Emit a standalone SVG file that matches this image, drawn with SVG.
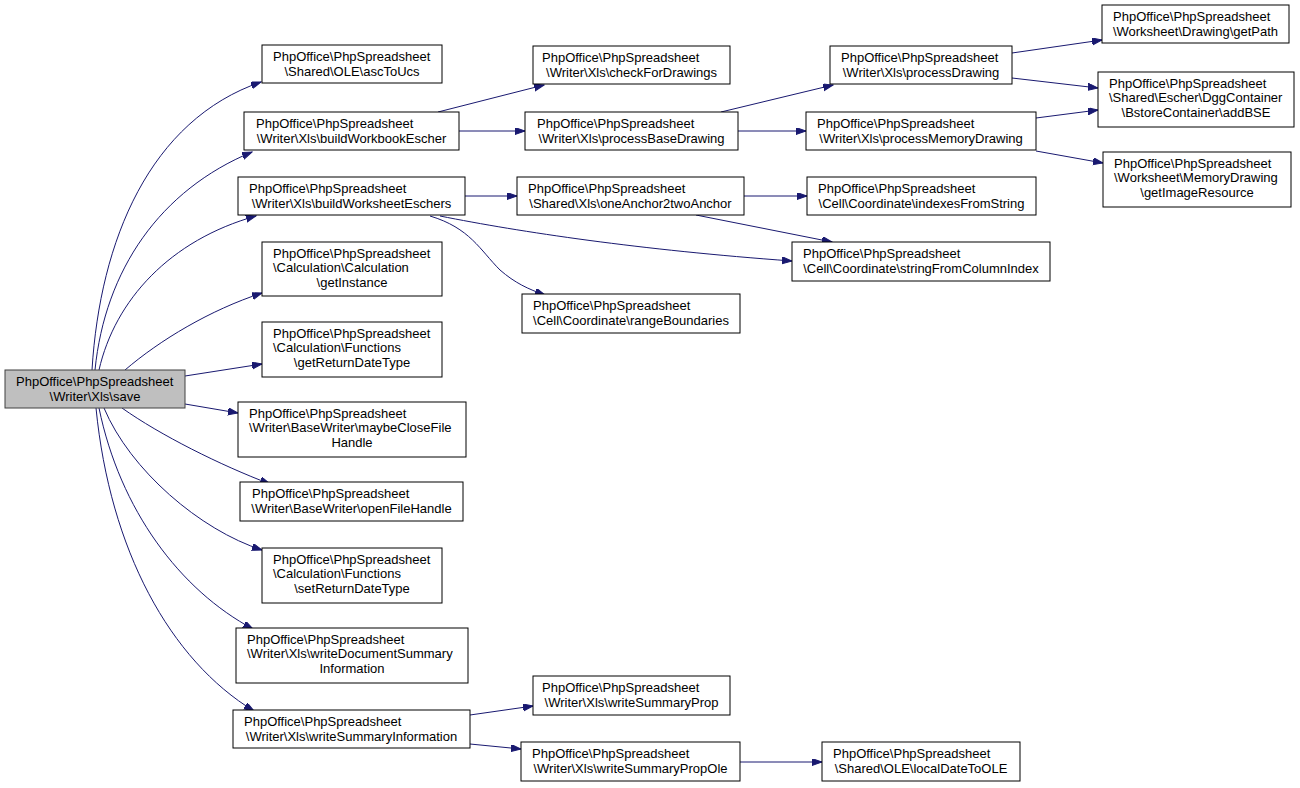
<svg xmlns="http://www.w3.org/2000/svg" width="1300" height="788" viewBox="0 0 1300 788">
<defs>
<style>
.n rect{fill:#ffffff;stroke:#000000;stroke-width:1}
.n.root rect{fill:#bfbfbf;stroke:#404040}
.n text{font-family:"Liberation Sans",Arial,Helvetica,sans-serif;font-size:13px;fill:#000000}
.n text.c{text-anchor:middle}
.e path{fill:none;stroke:#191970;stroke-width:1;marker-end:url(#ah)}
</style>
<marker id="ah" markerUnits="userSpaceOnUse" markerWidth="11" markerHeight="8" refX="10" refY="3.5" orient="auto">
<path d="M0,0 L10,3.5 L0,7 z" fill="#191970" stroke="#191970" stroke-width="1"/>
</marker>
</defs>
<rect x="0" y="0" width="1300" height="788" fill="#ffffff"/>
<g id="edges" class="e">
<path d="M92,370 C100,240 150,120 261,82"/>
<path d="M95,370 C105,270 160,190 252,152"/>
<path d="M99,370 C115,300 170,240 256,216"/>
<path d="M125,370 C160,340 210,310 262,293"/>
<path d="M185,376 L262,364"/>
<path d="M185,404 L238,413"/>
<path d="M122,408 C160,435 220,465 270,484"/>
<path d="M104,408 C130,470 200,530 262,550"/>
<path d="M99,408 C120,510 180,590 253,629"/>
<path d="M96,408 C110,550 170,660 254,711"/>
<path d="M438,112 L544,85"/>
<path d="M459,131 L525,131"/>
<path d="M721,112 L833,85"/>
<path d="M738,131 L806,131"/>
<path d="M1012,53 L1102,40"/>
<path d="M1012,78 L1098,88"/>
<path d="M1036,118 L1098,110"/>
<path d="M1036,151 L1103,163"/>
<path d="M465,196 L517,196"/>
<path d="M440,216 C520,232 640,250 792,261"/>
<path d="M430,216 C470,228 480,250 500,270 C515,283 528,289 545,295"/>
<path d="M744,196 L807,196"/>
<path d="M696,215 L832,242"/>
<path d="M470,715 L533,706"/>
<path d="M470,744 L521,749"/>
<path d="M740,762 L822,762"/>
</g>
<g id="save" class="n root"><rect x="5" y="370" width="180" height="38"/><text x="16" y="386">PhpOffice\PhpSpreadsheet</text><text class="c" x="95" y="401">\Writer\Xls\save</text></g>
<g id="ascToUcs" class="n"><rect x="262" y="45" width="180" height="38"/><text x="273" y="61">PhpOffice\PhpSpreadsheet</text><text class="c" x="352" y="76">\Shared\OLE\ascToUcs</text></g>
<g id="buildWorkbookEscher" class="n"><rect x="244" y="112" width="215" height="38"/><text x="256" y="128">PhpOffice\PhpSpreadsheet</text><text class="c" x="351.5" y="143">\Writer\Xls\buildWorkbookEscher</text></g>
<g id="checkForDrawings" class="n"><rect x="533" y="46" width="197" height="38"/><text x="542" y="62">PhpOffice\PhpSpreadsheet</text><text class="c" x="631.5" y="77">\Writer\Xls\checkForDrawings</text></g>
<g id="processBaseDrawing" class="n"><rect x="525" y="112" width="213" height="38"/><text x="537" y="128">PhpOffice\PhpSpreadsheet</text><text class="c" x="631.5" y="143">\Writer\Xls\processBaseDrawing</text></g>
<g id="processDrawing" class="n"><rect x="830" y="46" width="182" height="38"/><text x="841" y="62">PhpOffice\PhpSpreadsheet</text><text class="c" x="921" y="77">\Writer\Xls\processDrawing</text></g>
<g id="processMemoryDrawing" class="n"><rect x="806" y="112" width="230" height="38"/><text x="817" y="128">PhpOffice\PhpSpreadsheet</text><text class="c" x="921" y="143">\Writer\Xls\processMemoryDrawing</text></g>
<g id="getPath" class="n"><rect x="1102" y="5" width="187" height="38"/><text x="1113" y="21">PhpOffice\PhpSpreadsheet</text><text class="c" x="1195.5" y="36">\Worksheet\Drawing\getPath</text></g>
<g id="addBSE" class="n"><rect x="1098" y="72" width="196" height="55"/><text x="1109" y="87.5">PhpOffice\PhpSpreadsheet</text><text x="1109" y="102">\Shared\Escher\DggContainer</text><text class="c" x="1196" y="116.5">\BstoreContainer\addBSE</text></g>
<g id="getImageResource" class="n"><rect x="1103" y="152" width="188" height="55"/><text x="1114" y="167.5">PhpOffice\PhpSpreadsheet</text><text x="1114" y="182">\Worksheet\MemoryDrawing</text><text class="c" x="1197" y="196.5">\getImageResource</text></g>
<g id="buildWorksheetEschers" class="n"><rect x="238" y="177" width="227" height="38"/><text x="249" y="193">PhpOffice\PhpSpreadsheet</text><text class="c" x="351.5" y="208">\Writer\Xls\buildWorksheetEschers</text></g>
<g id="oneAnchor2twoAnchor" class="n"><rect x="517" y="177" width="227" height="38"/><text x="528" y="193">PhpOffice\PhpSpreadsheet</text><text class="c" x="630.5" y="208">\Shared\Xls\oneAnchor2twoAnchor</text></g>
<g id="indexesFromString" class="n"><rect x="807" y="177" width="229" height="38"/><text x="818" y="193">PhpOffice\PhpSpreadsheet</text><text class="c" x="921.5" y="208">\Cell\Coordinate\indexesFromString</text></g>
<g id="stringFromColumnIndex" class="n"><rect x="792" y="242" width="258" height="39"/><text x="803" y="258">PhpOffice\PhpSpreadsheet</text><text class="c" x="921" y="273">\Cell\Coordinate\stringFromColumnIndex</text></g>
<g id="rangeBoundaries" class="n"><rect x="522" y="294" width="218" height="39"/><text x="533" y="310">PhpOffice\PhpSpreadsheet</text><text class="c" x="631" y="325">\Cell\Coordinate\rangeBoundaries</text></g>
<g id="getInstance" class="n"><rect x="262" y="242" width="180" height="54"/><text x="273" y="257.5">PhpOffice\PhpSpreadsheet</text><text x="273" y="272">\Calculation\Calculation</text><text class="c" x="352" y="286.5">\getInstance</text></g>
<g id="getReturnDateType" class="n"><rect x="262" y="322" width="180" height="55"/><text x="273" y="337.5">PhpOffice\PhpSpreadsheet</text><text x="273" y="352">\Calculation\Functions</text><text class="c" x="352" y="366.5">\getReturnDateType</text></g>
<g id="maybeCloseFileHandle" class="n"><rect x="238" y="402" width="228" height="55"/><text x="249" y="417.5">PhpOffice\PhpSpreadsheet</text><text x="249" y="432">\Writer\BaseWriter\maybeCloseFile</text><text class="c" x="352" y="446.5">Handle</text></g>
<g id="openFileHandle" class="n"><rect x="240" y="482" width="223" height="39"/><text x="252" y="498">PhpOffice\PhpSpreadsheet</text><text class="c" x="351.5" y="513">\Writer\BaseWriter\openFileHandle</text></g>
<g id="setReturnDateType" class="n"><rect x="262" y="548" width="180" height="55"/><text x="273" y="563.5">PhpOffice\PhpSpreadsheet</text><text x="273" y="578">\Calculation\Functions</text><text class="c" x="352" y="592.5">\setReturnDateType</text></g>
<g id="writeDocumentSummaryInformation" class="n"><rect x="236" y="628" width="232" height="55"/><text x="247" y="643.5">PhpOffice\PhpSpreadsheet</text><text x="247" y="658">\Writer\Xls\writeDocumentSummary</text><text class="c" x="352" y="672.5">Information</text></g>
<g id="writeSummaryInformation" class="n"><rect x="233" y="710" width="237" height="38"/><text x="244" y="726">PhpOffice\PhpSpreadsheet</text><text class="c" x="351.5" y="741">\Writer\Xls\writeSummaryInformation</text></g>
<g id="writeSummaryProp" class="n"><rect x="533" y="676" width="197" height="39"/><text x="542" y="692">PhpOffice\PhpSpreadsheet</text><text class="c" x="631.5" y="707">\Writer\Xls\writeSummaryProp</text></g>
<g id="writeSummaryPropOle" class="n"><rect x="521" y="742" width="219" height="39"/><text x="532" y="758">PhpOffice\PhpSpreadsheet</text><text class="c" x="630.5" y="773">\Writer\Xls\writeSummaryPropOle</text></g>
<g id="localDateToOLE" class="n"><rect x="822" y="742" width="198" height="39"/><text x="833" y="758">PhpOffice\PhpSpreadsheet</text><text class="c" x="921" y="773">\Shared\OLE\localDateToOLE</text></g>
</svg>
